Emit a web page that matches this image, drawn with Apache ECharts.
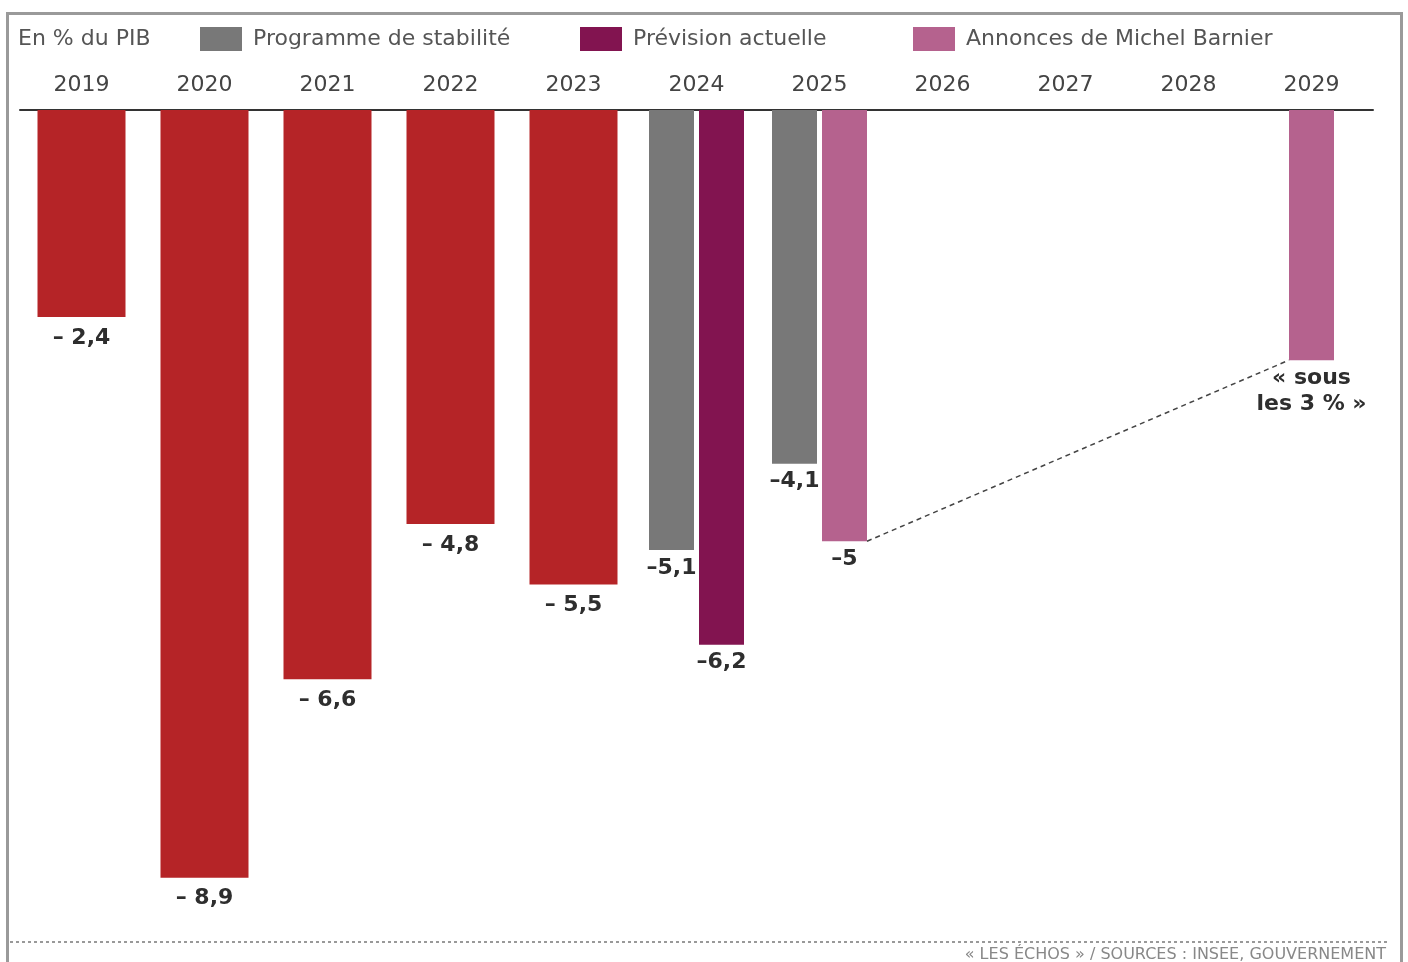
<!DOCTYPE html>
<html lang="fr">
<head>
<meta charset="utf-8">
<title>Déficit public en % du PIB</title>
<script src="https://cdn.jsdelivr.net/npm/echarts@6/dist/echarts.min.js"></script>
<style>
  html, body { margin: 0; padding: 0; background: #fff; }
  #chart { width: 1408px; height: 962px; }
</style>
</head>
<body>
<div id="chart"></div>
<script>
// Années (axe du haut)
const years = ['2019', '2020', '2021', '2022', '2023', '2024', '2025', '2026', '2027', '2028', '2029'];

// Solde public en % du PIB
const realise    = [-2.4, -8.9, -6.6, -4.8, -5.5, null, null, null, null, null, null];
const programme  = [null, null, null, null, null, -5.1, -4.1, null, null, null, null];
const prevision  = [null, null, null, null, null, -6.2, null, null, null, null, null];
const annonces   = [null, null, null, null, null, null, -5, null, null, null, -2.9];

// Étiquette particulière pour l'objectif 2029
const annoncesLabels = [null, null, null, null, null, null, null, null, null, null, '« sous\nles 3 % »'];

// Indices des années reliées par le pointillé (2025 -> 2029)
const liaison = [[6, 10]];

const seriesNames = ['Réalisé', 'Programme de stabilité', 'Prévision actuelle', 'Annonces de Michel Barnier'];
const seriesData = [realise, programme, prevision, annonces];
const seriesColors = ['#b52427', '#787878', '#821450', '#b5628e'];

const FONT = 'DejaVu Sans';

function fmt(v, spaced) {
  return '–' + (spaced ? ' ' : '') + String(Math.abs(v)).replace('.', ',');
}

// Position d'une barre : les années réalisées en barre pleine,
// les prévisions en demi-barres côte à côte (ou centrées si seules)
function barRect(sIdx, cat, api) {
  const present = [];
  seriesData.forEach((arr, k) => { if (arr[cat] != null) present.push(k); });
  const slot = present.indexOf(sIdx);
  const n = present.length;
  const base = api.coord([cat, 0]);
  const end = api.coord([cat, seriesData[sIdx][cat]]);
  const w = sIdx === 0 ? 88 : 45;
  const gap = 5;
  const total = n * w + (n - 1) * gap;
  const x = base[0] - total / 2 + slot * (w + gap);
  return { x: x, y: base[1], width: w, height: end[1] - base[1], single: sIdx === 0 };
}

function makeBarSeries(sIdx) {
  const data = seriesData[sIdx].map((v, i) => [i, v]);
  return {
    type: 'custom',
    name: seriesNames[sIdx],
    itemStyle: { color: seriesColors[sIdx] },
    data: data,
    renderItem: function (params, api) {
      const cat = api.value(0);
      const v = seriesData[sIdx][cat];
      if (v == null) return null;
      const r = barRect(sIdx, cat, api);
      let label = fmt(v, sIdx === 0);
      if (sIdx === 3 && annoncesLabels[cat]) label = annoncesLabels[cat];
      return {
        type: 'group',
        children: [
          {
            type: 'rect',
            shape: { x: r.x, y: r.y, width: r.width, height: r.height },
            style: { fill: seriesColors[sIdx] }
          },
          {
            type: 'text',
            style: {
              x: r.x + r.width / 2,
              y: r.y + r.height + (r.single ? 8 : 5),
              text: label,
              fill: '#2e2e2e',
              font: 'bold 22px "' + FONT + '"',
              align: 'center',
              verticalAlign: 'top',
              lineHeight: 26
            }
          }
        ]
      };
    }
  };
}

const chart = echarts.init(document.getElementById('chart'), null, { renderer: 'canvas' });

const legendText = { color: '#555', fontSize: 22, fontFamily: FONT, padding: [0, 0, 0, 6] };
function legendAt(left, name) {
  return {
    left: left, top: 27, padding: 0, itemWidth: 42, itemHeight: 24, icon: 'rect',
    selectedMode: false, textStyle: legendText, data: [name]
  };
}

const option = {
  backgroundColor: '#fff',
  animation: false,
  legend: [
    legendAt(200, seriesNames[1]),
    legendAt(580, seriesNames[2]),
    legendAt(913, seriesNames[3])
  ],
  grid: { left: 20, right: 35, top: 110, height: 819.375 },
  xAxis: {
    type: 'category',
    position: 'top',
    data: years,
    axisLine: { show: true, lineStyle: { color: '#333', width: 2 } },
    axisTick: { show: false },
    axisLabel: { color: '#444', fontSize: 22, fontFamily: FONT, margin: 14 },
    splitLine: { show: false }
  },
  yAxis: { type: 'value', min: -9.5, max: 0, show: false },
  graphic: [
    {
      type: 'rect', silent: true,
      shape: { x: 7.5, y: 13.5, width: 1394, height: 1000 },
      style: { fill: null, stroke: '#9a9a9a', lineWidth: 3 }
    },
    {
      type: 'text', left: 18, top: 28,
      style: { text: 'En % du PIB', fill: '#555', font: '22px "' + FONT + '"' }
    },
    {
      type: 'line', silent: true,
      shape: { x1: 10, y1: 942, x2: 1390, y2: 942 },
      style: { stroke: '#999', lineWidth: 2, lineDash: [3, 3] }
    },
    {
      type: 'text', right: 22, top: 947,
      style: { text: '« LES ÉCHOS » / SOURCES : INSEE, GOUVERNEMENT', fill: '#888', font: '16px "' + FONT + '"' }
    }
  ],
  series: [
    makeBarSeries(0),
    makeBarSeries(1),
    makeBarSeries(2),
    makeBarSeries(3),
    {
      type: 'custom',
      name: 'liaison',
      data: liaison,
      z: 1,
      renderItem: function (params, api) {
        const a = api.value(0), b = api.value(1);
        const ra = barRect(3, a, api);
        const rb = barRect(3, b, api);
        return {
          type: 'line',
          shape: {
            x1: ra.x + ra.width, y1: ra.y + ra.height,
            x2: rb.x, y2: rb.y + rb.height
          },
          style: { stroke: '#444', lineWidth: 1.5, lineDash: [5, 4] }
        };
      }
    }
  ]
};

chart.setOption(option);
</script>
</body>
</html>
